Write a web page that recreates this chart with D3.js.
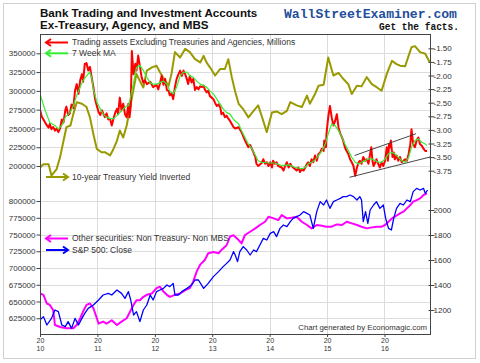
<!DOCTYPE html>
<html><head><meta charset="utf-8">
<script src="https://cdn.jsdelivr.net/npm/d3@7"></script>
<style>
html,body{margin:0;padding:0;background:#fff;}
svg{display:block;font-family:"Liberation Sans",Arial,sans-serif;}
</style></head>
<body><svg id="chart" width="480" height="363"></svg>
<script>
// ---------- DATA (dates as decimal years) ----------
const tradingAssets = [
[2010.00,275000],[2010.03,266000],[2010.06,262000],[2010.09,258000],[2010.12,254000],[2010.15,251000],[2010.17,256000],[2010.20,249000],[2010.23,252000],[2010.26,247000],[2010.29,250000],[2010.32,245000],[2010.35,250000],[2010.38,262000],[2010.41,258000],[2010.44,274000],[2010.46,279000],[2010.49,268000],[2010.52,270000],[2010.55,282000],[2010.58,277000],[2010.61,300000],[2010.64,309000],[2010.67,296000],[2010.70,314000],[2010.73,322000],[2010.75,312000],[2010.78,336000],[2010.81,337000],[2010.84,327000],[2010.87,332000],[2010.90,318000],[2010.93,305000],[2010.96,289000],[2010.99,280000],[2011.02,272000],[2011.05,268000],[2011.08,274000],[2011.10,270000],[2011.13,265000],[2011.16,270000],[2011.19,262000],[2011.22,263000],[2011.25,254000],[2011.28,263000],[2011.31,271000],[2011.34,276000],[2011.36,269000],[2011.39,291000],[2011.42,274000],[2011.45,283000],[2011.48,269000],[2011.51,265000],[2011.54,283000],[2011.56,265000],[2011.58,279000],[2011.60,353000],[2011.63,322000],[2011.66,336000],[2011.68,327000],[2011.71,347000],[2011.74,333000],[2011.77,318000],[2011.80,311000],[2011.83,314000],[2011.86,309000],[2011.92,312000],[2011.97,305000],[2012.03,308000],[2012.06,302000],[2012.09,310000],[2012.12,320000],[2012.15,308000],[2012.18,316000],[2012.21,301000],[2012.24,300000],[2012.26,294000],[2012.29,297000],[2012.32,289000],[2012.35,305000],[2012.38,316000],[2012.41,322000],[2012.44,327000],[2012.47,320000],[2012.50,327000],[2012.53,322000],[2012.56,315000],[2012.58,309000],[2012.61,320000],[2012.64,311000],[2012.67,316000],[2012.70,301000],[2012.73,305000],[2012.76,302000],[2012.79,306000],[2012.82,305000],[2012.85,307000],[2012.87,302000],[2012.90,298000],[2012.93,300000],[2012.96,293000],[2012.99,291000],[2013.02,289000],[2013.05,284000],[2013.08,280000],[2013.11,282000],[2013.14,278000],[2013.16,269000],[2013.19,271000],[2013.22,265000],[2013.25,267000],[2013.28,263000],[2013.31,260000],[2013.34,256000],[2013.37,252000],[2013.40,250000],[2013.46,251600],[2013.51,245000],[2013.57,234000],[2013.63,225000],[2013.66,228000],[2013.69,223000],[2013.75,212000],[2013.77,203000],[2013.80,200000],[2013.86,204000],[2013.89,209000],[2013.92,203000],[2013.95,205000],[2013.98,200000],[2014.01,205000],[2014.04,198000],[2014.06,207000],[2014.09,203000],[2014.12,205000],[2014.15,200000],[2014.21,198000],[2014.24,194000],[2014.27,200000],[2014.30,205000],[2014.33,198000],[2014.36,203000],[2014.38,200000],[2014.41,198000],[2014.44,196000],[2014.47,194000],[2014.50,198000],[2014.53,192000],[2014.56,196000],[2014.59,194000],[2014.62,198000],[2014.65,203000],[2014.67,205000],[2014.70,200000],[2014.73,209000],[2014.76,205000],[2014.79,214000],[2014.82,207000],[2014.85,216000],[2014.88,218000],[2014.91,223000],[2014.94,220000],[2014.95,234000],[2014.98,225000],[2014.99,243000],[2015.02,265000],[2015.05,280000],[2015.08,265000],[2015.11,254000],[2015.14,260000],[2015.17,269000],[2015.20,251000],[2015.23,243000],[2015.26,238000],[2015.28,234000],[2015.31,225000],[2015.34,220000],[2015.37,216000],[2015.40,209000],[2015.43,205000],[2015.46,200000],[2015.49,187000],[2015.52,198000],[2015.55,205000],[2015.57,207000],[2015.60,203000],[2015.63,212000],[2015.66,207000],[2015.69,209000],[2015.72,203000],[2015.75,216000],[2015.77,225000],[2015.79,207000],[2015.81,200000],[2015.84,205000],[2015.86,209000],[2015.89,203000],[2015.92,198000],[2015.95,205000],[2015.98,200000],[2016.01,207000],[2016.04,225000],[2016.06,207000],[2016.08,229000],[2016.10,225000],[2016.11,234000],[2016.14,212000],[2016.16,218000],[2016.18,209000],[2016.21,214000],[2016.24,207000],[2016.27,212000],[2016.30,205000],[2016.33,207000],[2016.36,209000],[2016.39,207000],[2016.42,216000],[2016.45,229000],[2016.47,249000],[2016.50,229000],[2016.53,225000],[2016.56,234000],[2016.59,238000],[2016.62,229000],[2016.65,227000],[2016.68,223000],[2016.71,220000],[2016.74,220000]
];
const movingAverage7w = [
[2010.00,296000],[2010.09,274000],[2010.17,258000],[2010.26,254000],[2010.32,249000],[2010.38,254000],[2010.44,265000],[2010.52,271000],[2010.58,280000],[2010.64,294000],[2010.70,305000],[2010.75,314000],[2010.81,320000],[2010.87,325000],[2010.90,318000],[2010.93,302000],[2010.99,285000],[2011.05,276000],[2011.10,269000],[2011.16,265000],[2011.22,263000],[2011.28,263000],[2011.34,267000],[2011.39,271000],[2011.45,276000],[2011.51,280000],[2011.54,280000],[2011.57,289000],[2011.63,311000],[2011.68,331000],[2011.74,334000],[2011.80,327000],[2011.86,318000],[2011.92,311000],[2011.97,309000],[2012.03,309000],[2012.09,311000],[2012.15,313000],[2012.21,309000],[2012.26,300000],[2012.32,296000],[2012.38,305000],[2012.44,320000],[2012.50,325000],[2012.56,325000],[2012.61,320000],[2012.67,318000],[2012.73,313000],[2012.79,309000],[2012.85,307000],[2012.90,305000],[2012.96,300000],[2013.02,296000],[2013.08,289000],[2013.14,282000],[2013.19,276000],[2013.25,271000],[2013.31,269000],[2013.37,262000],[2013.40,260000],[2013.46,256000],[2013.51,247000],[2013.57,238000],[2013.63,229000],[2013.69,223000],[2013.75,214000],[2013.80,207000],[2013.86,205000],[2013.98,204000],[2014.09,204000],[2014.21,200600],[2014.33,201500],[2014.44,198400],[2014.56,196200],[2014.62,198400],[2014.67,202800],[2014.73,205000],[2014.79,208000],[2014.85,213800],[2014.91,220500],[2014.97,229400],[2015.02,242700],[2015.08,256000],[2015.14,253700],[2015.20,247100],[2015.26,238300],[2015.31,229400],[2015.37,220500],[2015.43,211700],[2015.49,205000],[2015.55,202800],[2015.60,205000],[2015.66,207200],[2015.72,209400],[2015.78,209400],[2015.84,207200],[2015.89,205000],[2015.95,205000],[2016.01,209400],[2016.07,216100],[2016.13,218300],[2016.18,216100],[2016.24,211700],[2016.30,207200],[2016.36,205000],[2016.42,211700],[2016.47,225000],[2016.53,233800],[2016.59,236000],[2016.65,231600],[2016.71,229400],[2016.74,227200]
];
const yieldInverted = [
[2010.00,-3.69],[2010.06,-3.63],[2010.15,-3.63],[2010.20,-3.84],[2010.29,-3.72],[2010.35,-3.50],[2010.41,-3.20],[2010.46,-2.95],[2010.53,-2.92],[2010.58,-2.71],[2010.64,-2.49],[2010.73,-2.52],[2010.81,-2.58],[2010.87,-2.77],[2010.93,-3.08],[2010.99,-3.35],[2011.07,-3.41],[2011.13,-3.41],[2011.22,-3.47],[2011.28,-3.35],[2011.34,-3.20],[2011.39,-3.01],[2011.45,-3.14],[2011.51,-2.92],[2011.57,-2.58],[2011.63,-2.25],[2011.68,-1.97],[2011.74,-2.10],[2011.80,-2.22],[2011.86,-1.91],[2011.95,-1.85],[2012.03,-1.82],[2012.09,-1.94],[2012.18,-2.10],[2012.24,-2.19],[2012.29,-1.97],[2012.35,-1.57],[2012.44,-1.67],[2012.53,-1.51],[2012.61,-1.57],[2012.70,-1.70],[2012.79,-1.76],[2012.85,-1.64],[2012.90,-1.76],[2012.96,-1.85],[2013.05,-2.00],[2013.14,-1.88],[2013.22,-1.88],[2013.28,-1.70],[2013.34,-2.03],[2013.40,-2.30],[2013.46,-2.52],[2013.54,-2.62],[2013.63,-2.77],[2013.72,-2.65],[2013.80,-2.55],[2013.86,-2.74],[2013.95,-3.04],[2014.04,-2.68],[2014.12,-2.66],[2014.21,-2.71],[2014.30,-2.65],[2014.36,-2.49],[2014.47,-2.55],[2014.56,-2.58],[2014.65,-2.37],[2014.70,-2.52],[2014.79,-2.34],[2014.85,-2.19],[2014.94,-2.17],[2015.02,-1.67],[2015.11,-2.00],[2015.20,-1.95],[2015.28,-2.06],[2015.37,-2.16],[2015.43,-2.34],[2015.52,-2.19],[2015.60,-2.20],[2015.69,-2.03],[2015.78,-2.16],[2015.87,-2.22],[2015.95,-2.28],[2016.04,-1.97],[2016.13,-1.73],[2016.21,-1.79],[2016.27,-1.82],[2016.36,-1.83],[2016.42,-1.64],[2016.47,-1.48],[2016.53,-1.46],[2016.62,-1.57],[2016.71,-1.60],[2016.79,-1.76]
];
const otherSecurities = [
[2010.00,662000],[2010.06,660000],[2010.12,647000],[2010.17,645000],[2010.23,637000],[2010.26,615000],[2010.35,612000],[2010.46,610000],[2010.58,610000],[2010.64,615000],[2010.70,625000],[2010.75,635000],[2010.81,645000],[2010.87,647000],[2010.93,640000],[2010.99,625000],[2011.02,617000],[2011.10,620000],[2011.16,617000],[2011.25,622000],[2011.34,615000],[2011.42,620000],[2011.51,625000],[2011.57,635000],[2011.63,645000],[2011.68,652000],[2011.74,652000],[2011.80,657000],[2011.86,660000],[2011.95,662000],[2012.03,670000],[2012.09,672000],[2012.15,665000],[2012.21,660000],[2012.26,657000],[2012.35,660000],[2012.44,662000],[2012.53,667000],[2012.61,670000],[2012.67,680000],[2012.73,695000],[2012.79,705000],[2012.87,712000],[2012.93,722000],[2013.02,724000],[2013.11,722000],[2013.16,727000],[2013.25,734000],[2013.31,747000],[2013.37,749000],[2013.43,744000],[2013.46,741800],[2013.51,736800],[2013.57,749300],[2013.66,754200],[2013.75,759200],[2013.83,764200],[2013.92,769100],[2013.98,776600],[2014.07,774100],[2014.15,771600],[2014.21,779100],[2014.30,774100],[2014.38,775100],[2014.47,776600],[2014.56,769100],[2014.65,764200],[2014.73,759200],[2014.82,764200],[2014.91,763200],[2014.99,761700],[2015.08,761700],[2015.17,765100],[2015.26,764200],[2015.34,769100],[2015.43,766600],[2015.52,764200],[2015.60,761700],[2015.69,759200],[2015.78,760700],[2015.87,761700],[2015.95,761700],[2016.01,764200],[2016.07,769100],[2016.13,774100],[2016.18,776600],[2016.27,781600],[2016.33,784100],[2016.39,789100],[2016.45,794000],[2016.50,799000],[2016.56,801500],[2016.62,804000],[2016.68,809000],[2016.74,811500]
];
const sp500Close = [
[2010.00,1120],[2010.06,1147],[2010.12,1080],[2010.20,1133],[2010.26,1200],[2010.32,1187],[2010.38,1080],[2010.44,1067],[2010.49,1107],[2010.55,1053],[2010.61,1133],[2010.67,1080],[2010.73,1133],[2010.78,1173],[2010.84,1213],[2010.93,1240],[2011.02,1280],[2011.10,1320],[2011.19,1333],[2011.25,1320],[2011.34,1360],[2011.42,1333],[2011.48,1293],[2011.54,1347],[2011.58,1280],[2011.63,1160],[2011.68,1187],[2011.74,1107],[2011.80,1200],[2011.86,1240],[2011.92,1320],[2011.97,1280],[2012.03,1347],[2012.09,1360],[2012.15,1373],[2012.21,1400],[2012.26,1387],[2012.32,1413],[2012.35,1320],[2012.41,1320],[2012.47,1347],[2012.56,1373],[2012.64,1400],[2012.70,1440],[2012.76,1440],[2012.85,1373],[2012.93,1413],[2013.02,1467],[2013.11,1507],[2013.19,1547],[2013.25,1573],[2013.31,1600],[2013.37,1667],[2013.40,1640],[2013.44,1587],[2013.48,1667],[2013.54,1707],[2013.60,1680],[2013.66,1640],[2013.72,1680],[2013.77,1667],[2013.83,1720],[2013.89,1773],[2013.95,1760],[2014.01,1813],[2014.07,1827],[2014.12,1787],[2014.18,1853],[2014.24,1880],[2014.30,1867],[2014.36,1907],[2014.41,1933],[2014.47,1947],[2014.53,1960],[2014.59,1987],[2014.65,1973],[2014.70,1960],[2014.76,1853],[2014.82,1987],[2014.88,2067],[2014.94,2040],[2014.99,2080],[2015.05,2013],[2015.11,2067],[2015.17,2080],[2015.23,2093],[2015.28,2107],[2015.34,2107],[2015.40,2120],[2015.46,2107],[2015.52,2080],[2015.57,2107],[2015.60,2080],[2015.63,1907],[2015.67,1987],[2015.71,1893],[2015.75,2000],[2015.81,2040],[2015.86,2067],[2015.92,2013],[2015.98,2040],[2016.02,1933],[2016.07,1853],[2016.12,1840],[2016.16,1933],[2016.21,2013],[2016.27,2053],[2016.33,2040],[2016.39,2080],[2016.45,2067],[2016.50,2147],[2016.56,2173],[2016.62,2160],[2016.68,2173],[2016.71,2133],[2016.75,2160]
];
const trendUpper = [[2015.48,214000],[2016.55,243000]];
const trendLower = [[2015.39,185000],[2016.82,212500]];

const yearTicks = [2010,2011,2012,2013,2014,2015,2016];
const leftTopTicks = [200000,225000,250000,275000,300000,325000,350000];
const rightTopTicks = [-3.75,-3.50,-3.25,-3.00,-2.75,-2.50,-2.25,-2.00,-1.75,-1.50];
const leftBottomTicks = [625000,650000,675000,700000,725000,750000,775000,800000];
const rightBottomTicks = [1200,1400,1600,1800,2000];

const legendTop = [
  {label:"Trading assets Excluding Treasuries and Agencies, Millions", color:"#ff0000", dir:"left", y:42.5},
  {label:"7 Week MA", color:"#33ee33", dir:"left", y:53.3},
  {label:"10-year Treasury Yield Inverted", color:"#999900", dir:"right", y:177}
];
const legendBottom = [
  {label:"Other securities: Non Treasury- Non MBS", color:"#ff00ff", dir:"left", y:238.5},
  {label:"S&P 500: Close", color:"#0000ff", dir:"right", y:250}
];

// ---------- CHART ----------
const svg = d3.select("#chart");
const L = 40, R = 431, T = 34, B = 335;

svg.append("rect").attr("x",3.5).attr("y",3.5).attr("width",472).attr("height",355)
  .attr("fill","#fff").attr("stroke","#d0d0d0");

const x = d3.scaleLinear().domain([2010, 2016.81]).range([L, R]);
const yTop = d3.scaleLinear().domain([175000, 375000]).range([184.8, 34.5]);
const yTopR = d3.scaleLinear().domain([-4.0, -1.25]).range([184.3, 34.7]);
const yBot = d3.scaleLinear().domain([600000, 825000]).range([B, 184.3]);
const yBotR = d3.scaleLinear().domain([1000, 2200]).range([B, 185]);

// grid
const grid = svg.append("g").attr("stroke","#dcdcdc").attr("stroke-width",1);
yearTicks.slice(1).forEach(t=>{
  grid.append("line").attr("x1",Math.round(x(t))+0.5).attr("x2",Math.round(x(t))+0.5).attr("y1",T).attr("y2",B);
});
leftTopTicks.forEach(v=>{
  grid.append("line").attr("x1",L).attr("x2",R).attr("y1",Math.round(yTop(v))+0.5).attr("y2",Math.round(yTop(v))+0.5);
});
leftBottomTicks.forEach(v=>{
  grid.append("line").attr("x1",L).attr("x2",R).attr("y1",Math.round(yBot(v))+0.5).attr("y2",Math.round(yBot(v))+0.5);
});

// clip
svg.append("clipPath").attr("id","plotclip").append("rect")
  .attr("x",L).attr("y",T).attr("width",R-L).attr("height",B-T);
const plot = svg.append("g").attr("clip-path","url(#plotclip)");

function addLine(data, ys, color, w){
  const line = d3.line().x(d=>x(d[0])).y(d=>ys(d[1]));
  plot.append("path").datum(data).attr("d",line).attr("fill","none")
    .attr("stroke",color).attr("stroke-width",w).attr("stroke-linejoin","round");
}
addLine(yieldInverted, yTopR, "#999900", 2);
addLine(tradingAssets, yTop, "#ff0000", 2);
addLine(movingAverage7w, yTop, "#33ee33", 1.2);
addLine(trendUpper, yTop, "#333333", 0.9);
addLine(trendLower, yTop, "#333333", 0.9);
addLine(otherSecurities, yBot, "#ff00ff", 2);
addLine(sp500Close, yBotR, "#0000ff", 1.3);

// frame
svg.append("rect").attr("x",L+0.5).attr("y",T+0.5).attr("width",R-L-1).attr("height",B-T-1)
  .attr("fill","none").attr("stroke","#444").attr("stroke-width",1);

// axes
function styleAxis(g){
  g.select(".domain").remove();
  g.selectAll(".tick line").attr("stroke","#444");
  g.selectAll(".tick text").attr("fill","#333").style("font-size","8px")
   .style("font-family","'Liberation Sans',Arial,sans-serif");
}
svg.append("g").attr("transform",`translate(${L+0.5},0)`)
  .call(d3.axisLeft(yTop).tickValues(leftTopTicks).tickSize(4).tickPadding(1).tickFormat(d3.format("d")))
  .call(styleAxis);
svg.append("g").attr("transform",`translate(${L+0.5},0)`)
  .call(d3.axisLeft(yBot).tickValues(leftBottomTicks).tickSize(4).tickPadding(1).tickFormat(d3.format("d")))
  .call(styleAxis);
svg.append("g").attr("transform",`translate(${R-2.5},0)`)
  .call(d3.axisRight(yTopR).tickValues(rightTopTicks).tickSize(6).tickPadding(-1).tickFormat(d=>d.toFixed(2)))
  .call(styleAxis);
svg.append("g").attr("transform",`translate(${R-2.5},0)`)
  .call(d3.axisRight(yBotR).tickValues(rightBottomTicks).tickSize(6).tickPadding(-1).tickFormat(d=>String(d)))
  .call(styleAxis);
const xa = svg.append("g").attr("transform",`translate(0,${B})`)
  .call(d3.axisBottom(x).tickValues(yearTicks).tickSize(2).tickFormat(""))
  .call(styleAxis);
xa.selectAll(".tick").each(function(d){
  const g = d3.select(this);
  const s = String(d);
  g.append("text").attr("fill","#333").attr("text-anchor","middle").style("font-size","7px")
    .attr("y",7.6).text(s.slice(0,2));
  g.append("text").attr("fill","#333").attr("text-anchor","middle").style("font-size","7px")
    .attr("y",15.6).text(s.slice(2));
});

// legends
function legend(items){
  items.forEach(it=>{
    const g = svg.append("g").attr("stroke",it.color).attr("stroke-width",2).attr("fill","none");
    g.append("line").attr("x1",46).attr("x2",68).attr("y1",it.y).attr("y2",it.y);
    const tip = it.dir==="left" ? 46 : 68, back = it.dir==="left" ? 51 : 63;
    g.append("path").attr("d",`M${back},${it.y-3.5}L${tip},${it.y}L${back},${it.y+3.5}`);
    svg.append("text").attr("x",72).attr("y",it.y).attr("dy","0.35em")
      .attr("fill","#333").style("font-size","8.5px").text(it.label);
  });
}
legend(legendTop);
legend(legendBottom);

// titles
svg.append("text").attr("x",40).attr("y",17).style("font-size","11.6px").style("font-weight","bold")
  .attr("fill","#111").text("Bank Trading and Investment Accounts");
svg.append("text").attr("x",40).attr("y",28.5).style("font-size","11.6px").style("font-weight","bold")
  .attr("fill","#111").text("Ex-Treasury, Agency, and MBS");
svg.append("text").attr("x",284).attr("y",17.5).attr("textLength",173).attr("lengthAdjust","spacingAndGlyphs")
  .style("font-family","'Liberation Mono','Courier New',monospace").style("font-weight","bold")
  .style("font-size","13px").attr("fill","#1f4e9a").text("WallStreetExaminer.com");
svg.append("text").attr("x",379).attr("y",29.5).attr("textLength",80).attr("lengthAdjust","spacingAndGlyphs")
  .style("font-family","'Liberation Mono','Courier New',monospace").style("font-weight","bold")
  .style("font-size","10px").attr("fill","#111").text("Get the facts.");
svg.append("text").attr("x",427).attr("y",330).attr("text-anchor","end").attr("fill","#333")
  .style("font-size","7.8px").text("Chart generated by Economagic.com");
</script></body></html>
